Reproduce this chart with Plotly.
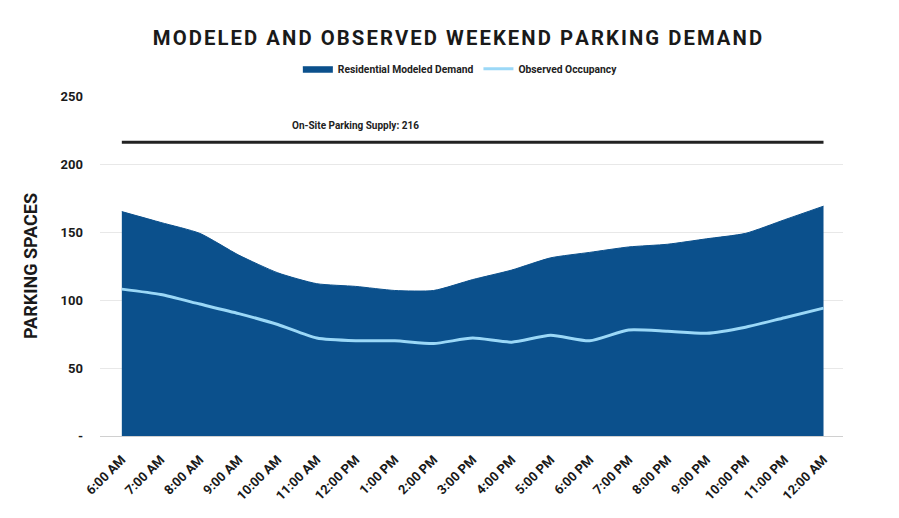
import plotly.graph_objects as go

hours = ["6:00 AM", "7:00 AM", "8:00 AM", "9:00 AM", "10:00 AM", "11:00 AM",
         "12:00 PM", "1:00 PM", "2:00 PM", "3:00 PM", "4:00 PM", "5:00 PM",
         "6:00 PM", "7:00 PM", "8:00 PM", "9:00 PM", "10:00 PM", "11:00 PM",
         "12:00 AM"]
modeled_demand = [165, 157, 149, 133, 120, 112, 110, 107, 107, 115, 122, 131,
                  135, 139, 141, 145, 149, 159, 169]
observed_occupancy = [108, 104, 97, 90, 82, 72, 70, 70, 68, 72, 69, 74,
                      70, 78, 77, 75.5, 80, 87, 94]
supply = 216
ytick_vals = [0, 50, 100, 150, 200, 250]
ytick_text = ["-", "50", "100", "150", "200", "250"]

FONT = "Roboto, Open Sans, sans-serif"
title_text = "MODELED AND OBSERVED WEEKEND PARKING DEMAND"
spaced_title = "&#8202;".join(title_text)

fig = go.Figure()
fig.add_trace(go.Scatter(
    x=hours, y=modeled_demand, name="Residential Modeled Demand",
    mode="lines", fill="tozeroy", fillcolor="#0b508c",
    line=dict(color="#0b508c", width=1, shape="spline", smoothing=0.6),
))
fig.add_trace(go.Scatter(
    x=hours, y=observed_occupancy, name="Observed Occupancy",
    mode="lines",
    line=dict(color="#9bd8f7", width=3, shape="spline", smoothing=0.6),
))
fig.add_trace(go.Scatter(
    x=hours, y=[supply] * len(hours), mode="lines", showlegend=False,
    line=dict(color="#222222", width=3), hoverinfo="skip",
))
fig.add_annotation(
    x=hours[6], y=supply, text="On-Site Parking Supply: %d" % supply,
    showarrow=False, yshift=17,
    font=dict(family=FONT, size=10, color="#222222", weight="bold"),
)

fig.update_layout(
    width=899, height=518,
    paper_bgcolor="white", plot_bgcolor="white",
    margin=dict(l=92, r=64, t=88, b=90),
    title=dict(
        text="<b>" + spaced_title + "</b>",
        x=0.5, xanchor="center", y=0.942, yanchor="middle",
        font=dict(family=FONT, size=20.3, color="#1a1a1a"),
    ),
    legend=dict(
        orientation="h", x=0.485, xanchor="center", y=1.08, yanchor="middle",
        font=dict(family=FONT, size=10.3, color="#222222", weight="bold"),
        itemwidth=30, traceorder="normal",
    ),
    showlegend=True,
)
fig.update_xaxes(
    type="category", range=[-0.56, 18.5],
    tickangle=-45, tickfont=dict(family=FONT, size=13, color="#1a1a1a", weight="bold"),
    showgrid=False, showline=True, linecolor="#d0d0d0", linewidth=1,
    ticks="", ticklabelstandoff=10, automargin=False,
)
fig.update_yaxes(
    range=[0, 250], tickvals=ytick_vals, ticktext=ytick_text,
    tickfont=dict(family=FONT, size=13, color="#1a1a1a", weight="bold"),
    showgrid=True, gridcolor="#e8e8e8", gridwidth=1, zeroline=False,
    title=dict(text="<b>PARKING SPACES</b>", standoff=18,
               font=dict(family=FONT, size=18, color="#1a1a1a")),
    ticks="", ticklabelstandoff=16, automargin=False,
)

fig.write_html("out.html")
